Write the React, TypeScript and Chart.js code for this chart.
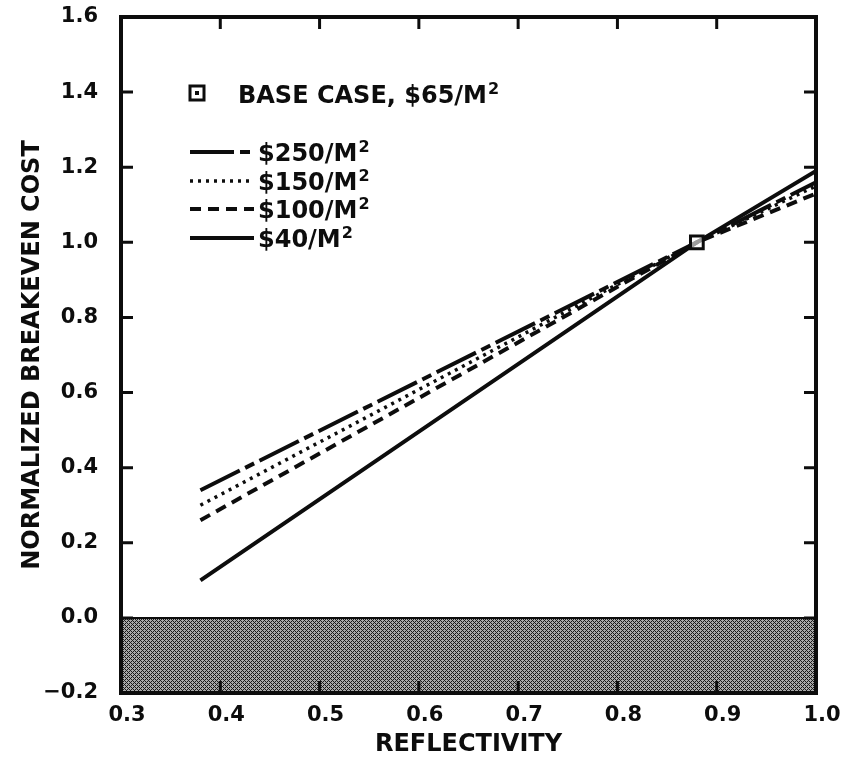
import { useEffect, useRef } from "react";
import { Chart, registerables } from "chart.js";

Chart.register(...registerables);

// Axis ticks
const reflectivityTicks = [0.3, 0.4, 0.5, 0.6, 0.7, 0.8, 0.9, 1.0];
const costTicks = [-0.2, 0.0, 0.2, 0.4, 0.6, 0.8, 1.0, 1.2, 1.4, 1.6];

// Breakeven cost curves, one per mirror cost
const reflect250 = [0.38, 0.88, 1.0];
const cost250 = [0.34, 1.0, 1.16];
const reflect150 = [0.38, 0.88, 1.0];
const cost150 = [0.3, 1.0, 1.15];
const reflect100 = [0.38, 0.88, 1.0];
const cost100 = [0.26, 1.0, 1.13];
const reflect40 = [0.38, 0.88, 1.0];
const cost40 = [0.1, 1.0, 1.19];

// Base case point
const baseReflect = [0.88];
const baseCost = [1.0];

// Negative-cost band edge
const bandReflect = [0.3, 1.0];
const bandCost = [0.0, 0.0];

const seriesLabels = ["$250/M", "$150/M", "$100/M", "$40/M"];
const baseLabel = "BASE CASE, $65/M";

const FONT = '"DejaVu Sans", "Liberation Sans", sans-serif';
const INK = "#0d0d0d";

const toPoints = (xs: number[], ys: number[]) => xs.map((x, i) => ({ x, y: ys[i] }));

const lineStyles = [
  { dash: [44, 6, 10, 6], width: 4 },
  { dash: [3, 5], width: 3.5 },
  { dash: [11, 7], width: 4 },
  { dash: [], width: 4 },
];

function makeHatch(): CanvasPattern | string {
  const tile = document.createElement("canvas");
  tile.width = 4;
  tile.height = 4;
  const c = tile.getContext("2d");
  if (!c) return "#777";
  c.fillStyle = "#a9a9a9";
  c.fillRect(0, 0, 4, 4);
  c.fillStyle = "#1a1a1a";
  for (let x = 0; x < 4; x++) {
    for (let y = 0; y < 4; y++) {
      if ((x + y) % 4 === 0 || (x - y + 4) % 4 === 0) c.fillRect(x, y, 1, 1);
    }
  }
  const p = c.createPattern(tile, "repeat");
  return p || "#777";
}

// Heavy frame with inward tick marks on all four sides
const framePlugin = {
  id: "frame",
  afterDatasetsDraw(chart: any) {
    const { ctx, chartArea } = chart;
    const { left, right, top, bottom } = chartArea;
    const xs = chart.scales.x;
    const ys = chart.scales.y;
    ctx.save();
    ctx.strokeStyle = INK;
    ctx.lineWidth = 3;
    const tl = 12;
    reflectivityTicks.slice(1, -1).forEach((v) => {
      const px = xs.getPixelForValue(v);
      ctx.beginPath();
      ctx.moveTo(px, top);
      ctx.lineTo(px, top + tl);
      ctx.moveTo(px, bottom);
      ctx.lineTo(px, bottom - tl);
      ctx.stroke();
    });
    costTicks.slice(1, -1).forEach((v) => {
      const py = ys.getPixelForValue(v);
      ctx.beginPath();
      ctx.moveTo(left, py);
      ctx.lineTo(left + tl, py);
      ctx.moveTo(right, py);
      ctx.lineTo(right - tl, py);
      ctx.stroke();
    });
    ctx.lineWidth = 4;
    ctx.strokeRect(left, top, right - left, bottom - top);
    ctx.restore();
  },
};

// Key in the upper-left of the plot
const keyPlugin = {
  id: "key",
  afterDraw(chart: any) {
    const { ctx } = chart;
    ctx.save();
    ctx.fillStyle = INK;
    ctx.strokeStyle = INK;
    ctx.textBaseline = "alphabetic";
    ctx.textAlign = "left";

    // base case marker
    ctx.lineWidth = 3;
    ctx.strokeRect(190, 86, 14, 14);
    ctx.fillRect(195, 91, 4, 4);

    const sup = (text: string, x: number, base: number, size: number) => {
      ctx.font = `bold ${size}px ${FONT}`;
      ctx.fillText(text, x, base);
      const w = ctx.measureText(text).width;
      ctx.font = `bold 16px ${FONT}`;
      ctx.fillText("2", x + w + 1, base - 9);
    };

    sup(baseLabel, 238, 103, 24);

    const rows = [152, 181, 209, 238];
    seriesLabels.forEach((label, i) => {
      const y = rows[i];
      const st = lineStyles[i];
      ctx.lineWidth = st.width;
      ctx.setLineDash(st.dash);
      ctx.beginPath();
      ctx.moveTo(190, y);
      ctx.lineTo(254, y);
      ctx.stroke();
      ctx.setLineDash([]);
      sup(label, 258, y + 9, 24);
    });
    ctx.restore();
  },
};

export default function App() {
  const ref = useRef<HTMLCanvasElement | null>(null);

  useEffect(() => {
    if (!ref.current) return;
    const hatch = makeHatch();
    const curves = [
      [reflect250, cost250],
      [reflect150, cost150],
      [reflect100, cost100],
      [reflect40, cost40],
    ];
    const lineSets = curves.map(([xs, ys], i) => ({
      label: seriesLabels[i],
      data: toPoints(xs, ys),
      borderColor: INK,
      borderWidth: lineStyles[i].width,
      borderDash: lineStyles[i].dash,
      borderCapStyle: "butt",
      pointRadius: 0,
      fill: false,
      tension: 0,
      order: 2,
    }));

    const chart = new Chart(ref.current, {
      type: "line",
      data: {
        datasets: [
          {
            label: baseLabel,
            data: toPoints(baseReflect, baseCost),
            showLine: false,
            pointStyle: "rect",
            pointRadius: 9,
            pointBorderWidth: 3,
            pointBorderColor: INK,
            pointBackgroundColor: "rgba(255,255,255,0.6)",
            order: 0,
          },
          ...lineSets,
          {
            label: "band",
            data: toPoints(bandReflect, bandCost),
            borderColor: INK,
            borderWidth: 2,
            backgroundColor: hatch,
            fill: "start",
            pointRadius: 0,
            order: 10,
          },
        ] as any,
      },
      options: {
        responsive: false,
        animation: false,
        events: [],
        layout: { padding: { left: 0, right: 28, top: 17, bottom: 0 } },
        plugins: {
          legend: { display: false },
          tooltip: { enabled: false },
          title: { display: false },
        },
        scales: {
          x: {
            type: "linear",
            min: 0.3,
            max: 1.0,
            afterBuildTicks: (s: any) => {
              s.ticks = reflectivityTicks.map((v) => ({ value: v }));
            },
            afterFit: (s: any) => {
              s.height = 72;
              s.paddingLeft = 0;
              s.paddingRight = 0;
            },
            grid: { display: false, drawTicks: false },
            border: { display: false },
            ticks: {
              color: INK,
              padding: 10,
              labelOffset: 6,
              maxRotation: 0,
              autoSkip: false,
              font: { family: FONT, size: 21, weight: "bold" },
              callback: (v: any) => Number(v).toFixed(1),
            },
            title: {
              display: true,
              text: "REFLECTIVITY",
              color: INK,
              padding: { top: 0, bottom: 6 },
              font: { family: FONT, size: 24, weight: "bold" },
            },
          },
          y: {
            type: "linear",
            min: -0.2,
            max: 1.6,
            afterBuildTicks: (s: any) => {
              s.ticks = costTicks.map((v) => ({ value: v }));
            },
            afterFit: (s: any) => {
              s.width = 121;
              s.paddingTop = 0;
              s.paddingBottom = 0;
            },
            grid: { display: false, drawTicks: false },
            border: { display: false },
            ticks: {
              color: INK,
              padding: 23,
              autoSkip: false,
              font: { family: FONT, size: 21, weight: "bold" },
              callback: (v: any) => {
                const n = Number(v);
                return n < 0 ? "\u2212" + Math.abs(n).toFixed(1) : n.toFixed(1);
              },
            },
            title: {
              display: true,
              text: "NORMALIZED BREAKEVEN COST",
              color: INK,
              padding: { top: 18, bottom: 0 },
              font: { family: FONT, size: 24, weight: "bold" },
            },
          },
        },
      } as any,
      plugins: [framePlugin, keyPlugin],
    });
    return () => chart.destroy();
  }, []);

  return (
    <div style={{ position: "absolute", left: 0, top: 0, width: 844, height: 765, background: "#fff" }}>
      <canvas ref={ref} width={844} height={765} />
    </div>
  );
}
